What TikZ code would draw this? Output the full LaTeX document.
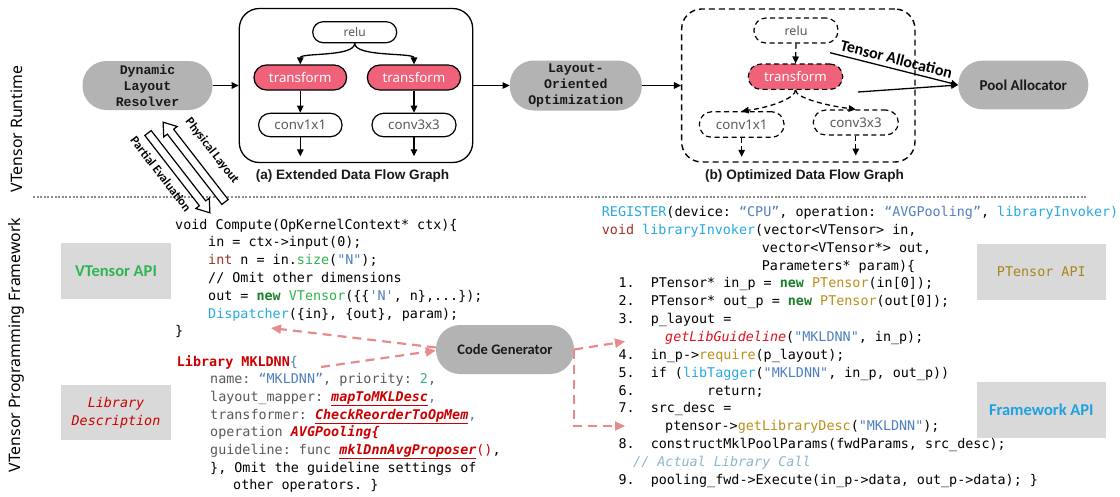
\documentclass[tikz,border=0pt]{standalone}
\usepackage{fontspec}
\setmainfont{Noto Sans}
\setmonofont{DejaVu Sans Mono}
\newfontfamily\carl{Carlito}
\newfontfamily\cour{Liberation Mono}
\newfontfamily\arialish{Liberation Sans}
\usetikzlibrary{arrows.meta}

\definecolor{kwred}{HTML}{A3302A}
\definecolor{cgreen}{HTML}{2DB34A}
\definecolor{dkgreen}{HTML}{1B7F2A}
\definecolor{strblue}{HTML}{4F7FC0}
\definecolor{lblue}{HTML}{27A9E1}
\definecolor{olive}{HTML}{B8901A}
\definecolor{libred}{HTML}{CC0000}
\definecolor{fnred}{HTML}{E0141E}
\definecolor{cgray}{HTML}{595959}
\definecolor{numgreen}{HTML}{36B37E}
\definecolor{cmt}{HTML}{8DB6CC}
\definecolor{pinkc}{HTML}{E8898A}
\definecolor{pillgray}{HTML}{B3B3B3}
\definecolor{boxgray}{HTML}{D9D9D9}
\definecolor{vgreen}{HTML}{2DB552}
\definecolor{fblue}{HTML}{1DA1E0}
\definecolor{papi}{HTML}{A8841A}
\definecolor{tfill}{HTML}{EF6279}
\definecolor{sepgray}{HTML}{8C8C8C}

\newcommand\codefont{\ttfamily\fontsize{13.4}{17.8}\selectfont}
\newcommand\ulred[1]{{\color{libred}\bfseries\itshape\underline{#1}}}

\begin{document}
\begin{tikzpicture}[x=1pt,y=-1pt,
  pill/.style={fill=pillgray, rounded corners=24pt, inner sep=0pt, align=center, text=black!90},
  resolverfont/.style={font=\cour\bfseries\fontsize{13.2}{16}\selectfont},
  codeline/.style={anchor=base west, inner sep=0pt, font=\codefont},
  flownode/.style={draw, line width=1.2pt, inner sep=0pt, text=cgray, font=\fontsize{13.3}{15}\selectfont},
  xform/.style={flownode, fill=tfill, text=white},
  dflow/.style={dash pattern=on 5pt off 3.5pt},
  garr/.style={line width=1.3pt, -{Triangle[length=7pt,width=6.5pt]}},
  parr/.style={draw=pinkc, line width=2.2pt, dash pattern=on 9pt off 6pt, -{Triangle[length=10pt,width=9pt]}},
  apibox/.style={fill=boxgray, minimum width=110pt, minimum height=56pt, inner sep=0pt, align=center},
  hollow/.style={draw, line width=1.2pt, fill=white, line join=miter},
  sidelab/.style={rotate=90, font=\fontsize{15.8}{18}\selectfont},
  caption/.style={font=\arialish\bfseries\fontsize{13.6}{15}\selectfont, text=black!90}
]
\useasboundingbox (0,0) rectangle (1120,496);
\fill[white] (0,0) rectangle (1120,496);

% ---------- side labels and separator ----------
\node[sidelab] (rtlab) at (16.5,129) {VTensor Runtime};
\node[sidelab] (pflab) at (16,345) {VTensor Programming Framework};
\draw[sepgray, line width=1.1pt, dash pattern=on 2pt off 1.6pt] (33,197) -- (1087,197);

% ---------- runtime row ----------
\node[pill, resolverfont, minimum width=130pt, minimum height=49pt] (dlr) at (147.5,85.5) {Dynamic\\Layout\\Resolver};
\node[draw, line width=1.3pt, rounded corners=20pt, minimum width=233.4pt, minimum height=154pt] (ga) at (356,85.5) {};
\node[pill, resolverfont, minimum width=132pt, minimum height=50pt] (loo) at (575.8,85.5) {Layout-\\Oriented\\Optimization};
\node[draw, line width=1.4pt, dash pattern=on 6pt off 4pt, rounded corners=20pt, minimum width=233.3pt, minimum height=153pt] (gb) at (798.3,85.5) {};
\node[pill, font=\carl\bfseries\fontsize{15}{17}\selectfont, minimum width=130pt, minimum height=48.6pt] (pool) at (1023.3,85) {Pool Allocator};

\draw[garr] (dlr.east) -- (ga.west);
\draw[garr] (ga.east) -- (loo.west);
\draw[garr] (loo.east) -- (gb.west);

% extended data flow graph
\node[flownode, rounded corners=10.5pt, minimum width=84pt, minimum height=21pt, font=\fontsize{12}{14}\selectfont] (relua) at (354.7,32.2) {relu};
\node[xform, rounded corners=12.5pt, minimum width=92.7pt, minimum height=25pt] (tla) at (300.3,77.5) {transform};
\node[xform, rounded corners=12.5pt, minimum width=93.3pt, minimum height=25pt] (tra) at (414,77.5) {transform};
\node[flownode, rounded corners=11.5pt, minimum width=83.4pt, minimum height=23.4pt] (c1a) at (300.3,125) {conv1x1};
\node[flownode, rounded corners=11.5pt, minimum width=84pt, minimum height=23.4pt] (c3a) at (414,125) {conv3x3};
\draw[garr] (relua.south) .. controls +(0,14) and +(0,-12) .. (tla.north);
\draw[garr] (relua.south) .. controls +(0,14) and +(0,-12) .. (tra.north);
\draw[garr] (tla.south) -- (c1a.north);
\draw[garr] (tra.south) -- (c3a.north);
\draw[garr] (c1a.south) -- ++(0,19);
\draw[garr] (c3a.south) -- ++(0,19);
\node[caption] (capa) at (352.5,175.5) {(a) Extended Data Flow Graph};

% optimized data flow graph
\node[flownode, dflow, rounded corners=12pt, minimum width=84pt, minimum height=25pt, font=\fontsize{12.5}{14}\selectfont] (relub) at (796,30.5) {relu};
\node[xform, dflow, rounded corners=12.5pt, minimum width=94.4pt, minimum height=25.3pt] (tb) at (795.5,76.7) {transform};
\node[flownode, dflow, rounded corners=12.5pt, minimum width=84.7pt, minimum height=25.6pt] (c1b) at (741.7,124.5) {conv1x1};
\node[flownode, dflow, rounded corners=12.5pt, minimum width=85pt, minimum height=25pt] (c3b) at (855.8,122.5) {conv3x3};
\draw[garr, dflow] (relub.south) -- (tb.north);
\draw[garr, dflow] (tb.south) .. controls +(0,8) and +(30,-4) .. (c1b.north);
\draw[garr, dflow] (tb.south) .. controls +(0,8) and +(-30,-4) .. (c3b.north);
\draw[garr, dflow] (c1b.south) -- ++(0,19);
\draw[garr, dflow] (c3b.south) -- ++(0,20);
\node[caption] (capb) at (804.5,175.5) {(b) Optimized Data Flow Graph};

% tensor allocation into the pool
\coordinate (ta1) at (830,52.7);
\coordinate (ta2) at (858,92);
\draw[garr] (ta1) -- (pool.west) node[midway, sloped, above=0.5pt, font=\carl\bfseries\fontsize{16}{18}\selectfont, text=black] (talab) {Tensor Allocation};
\draw[garr] (ta2) -- (pool.west);

% hollow arrows between resolver and kernel code
\begin{scope}[shift={(225,202)}, rotate=127.8]
  \draw[hollow] (0,-4) -- (89,-4) -- (89,-8.5) -- (101,0) -- (89,8.5) -- (89,4) -- (0,4) -- cycle;
\end{scope}
\begin{scope}[shift={(148,133)}, rotate=-52.2]
  \draw[hollow] (0,-4) -- (89,-4) -- (89,-8.5) -- (101,0) -- (89,8.5) -- (89,4) -- (0,4) -- cycle;
\end{scope}
\node[rotate=-52.2, font=\carl\bfseries\fontsize{12.5}{14}\selectfont] (physlab) at (212,151) {Physical Layout};
\node[rotate=-52.2, font=\carl\bfseries\fontsize{12.5}{14}\selectfont] (partlab) at (161,174) {Partial Evaluation};

% ---------- programming framework ----------
\node[apibox, font=\carl\bfseries\fontsize{16.5}{18}\selectfont, text=vgreen] (vapi) at (116,271) {VTensor API};
\node[apibox, font=\codefont\itshape, text=libred, minimum height=55pt] (libd) at (116,412.5) {Library\\Description};
\node[apibox, font=\codefont, text=papi, minimum width=129.3pt] (papil) at (1041.3,272) {PTensor API};
\node[apibox, font=\carl\bfseries\fontsize{16.5}{18}\selectfont, text=fblue, minimum width=129.3pt, minimum height=55.7pt] (fapi) at (1041.3,410) {Framework API};

% kernel compute body
\node[codeline] (k0) at (175,229) {void Compute(OpKernelContext* ctx)\{};
\node[codeline] (k1) at (208,246.8) {in = ctx->input(0);};
\node[codeline] (k2) at (208,264.6) {{\color{kwred}int} n = in.{\color{cgreen}size}({\color{strblue}"N"});};
\node[codeline] (k3) at (208,282.4) {// Omit other dimensions};
\node[codeline] (k4) at (208,300.2) {out = {\color{dkgreen}\bfseries new} {\color{cgreen}VTensor}(\{\{{\color{strblue}'N'}, n\},...\});};
\node[codeline] (k5) at (208,318) {{\color{lblue}Dispatcher}(\{in\}, \{out\}, param);};
\node[codeline] (k6) at (175,335.8) {\}};

% library description
\node[codeline] (b0) at (176.7,366) {{\color{libred}\bfseries Library MKLDNN}{\color{strblue}\{}};
\node[codeline, text=cgray] (b1) at (210,383.7) {name: {\color{strblue}“MKLDNN”}, priority: {\color{numgreen}2},};
\node[codeline, text=cgray] (b2) at (210,401.4) {layout\_mapper: \ulred{mapToMKLDesc}{\color{strblue},}};
\node[codeline, text=cgray] (b3) at (210,419.1) {transformer: \ulred{CheckReorderToOpMem}{\color{strblue},}};
\node[codeline, text=cgray] (b4) at (210,436.8) {operation {\color{libred}\bfseries\itshape AVGPooling\{}};
\node[codeline, text=cgray] (b5) at (210,454.5) {guideline: func \ulred{mklDnnAvgProposer}{\color{libred}()}{\color{black},}};
\node[codeline] (b6) at (210,472.2) {\}, Omit the guideline settings of};
\node[codeline] (b7) at (233,489.9) {other operators. \}};

% library invoker
\node[codeline] (r0) at (601.7,216.5) {{\color{lblue}REGISTER}(device: {\color{strblue}“CPU”}, operation: {\color{strblue}“AVGPooling”}, {\color{lblue}libraryInvoker)}};
\node[codeline] (r1) at (601.7,234.35) {{\color{kwred}void} {\color{lblue}libraryInvoker}(vector<VTensor> in,};
\node[codeline] (r2) at (761.7,252.2) {vector<VTensor*> out,};
\node[codeline] (r3) at (761.7,270.05) {Parameters* param)\{};
\node[codeline] (r4) at (618.3,287.9) {1.\ \ PTensor* in\_p = {\color{dkgreen}\bfseries new} {\color{olive}PTensor}(in[0]);};
\node[codeline] (r5) at (618.3,305.75) {2.\ \ PTensor* out\_p = {\color{dkgreen}\bfseries new} {\color{olive}PTensor}(out[0]);};
\node[codeline] (r6) at (618.3,323.6) {3.\ \ p\_layout =};
\node[codeline] (r7) at (665,341.45) {{\color{fnred}\itshape getLibGuideline}({\color{strblue}"MKLDNN"}, in\_p);};
\node[codeline] (r8) at (618.3,359.3) {4.\ \ in\_p->{\color{olive}require}(p\_layout);};
\node[codeline] (r9) at (618.3,377.15) {5.\ \ if ({\color{lblue}libTagger}({\color{strblue}"MKLDNN"}, in\_p, out\_p))};
\node[codeline] (r10) at (618.3,395) {6.\ \ \ \ \ \ \ \ \ return;};
\node[codeline] (r11) at (618.3,412.85) {7.\ \ src\_desc =};
\node[codeline] (r12) at (665,430.7) {ptensor->{\color{olive}getLibraryDesc}({\color{strblue}"MKLDNN"});};
\node[codeline] (r13) at (618.3,448.55) {8.\ \ constructMklPoolParams(fwdParams, src\_desc);};
\node[codeline, text=cmt] (r14) at (633,466.4) {\itshape // Actual Library Call};
\node[codeline] (r15) at (618.3,484.25) {9.\ \ pooling\_fwd->Execute(in\_p->data, out\_p->data); \}};

% code generator and its links
\node[pill, font=\carl\bfseries\fontsize{14.5}{17}\selectfont, minimum width=138pt, minimum height=49pt] (cg) at (505,349.5) {Code Generator};
\coordinate (dsp) at (271,328);
\coordinate (libsrc) at (321,367);
\coordinate (g1) at (625,341.5);
\coordinate (g2) at (625,426);
\draw[parr] ([yshift=2pt]cg.west) -- (dsp);
\draw[parr] (libsrc) -- ([yshift=-1pt]cg.west);
\draw[parr] (cg.east) -- (g1);
\draw[parr] (cg.east) |- (g2);
\end{tikzpicture}
\end{document}
